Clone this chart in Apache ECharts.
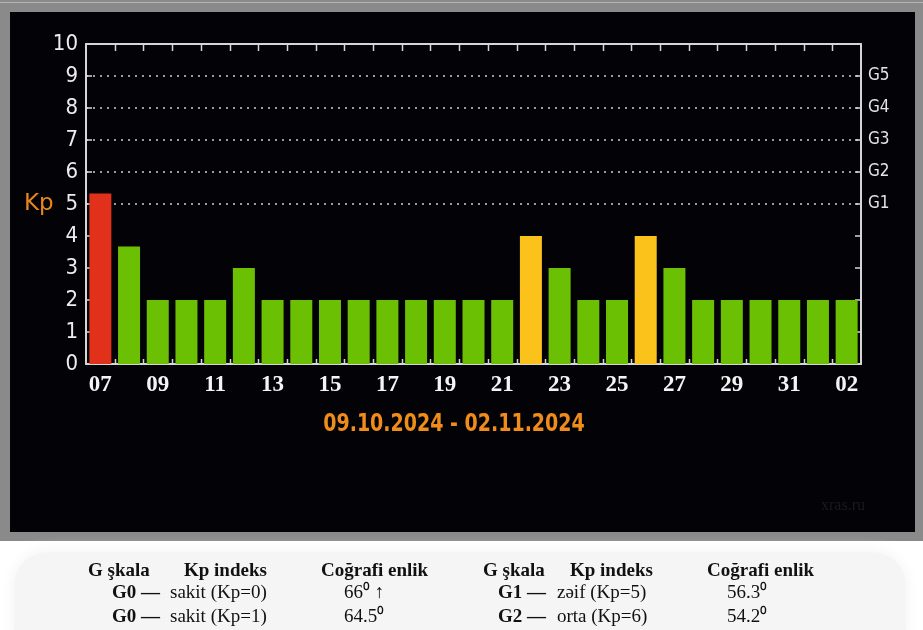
<!DOCTYPE html>
<html>
<head>
<meta charset="utf-8">
<script src="https://cdn.jsdelivr.net/npm/echarts@6/dist/echarts.min.js"></script>
<style>
  html, body { margin: 0; padding: 0; background: #fff; }
  #main { width: 923px; height: 630px; }
</style>
</head>
<body>
<div id="main"></div>
<script>
// days of the period (07.10 .. 02.11) and daily max Kp
var days = ['07','08','09','10','11','12','13','14','15','16','17','18','19','20',
            '21','22','23','24','25','26','27','28','29','30','31','01','02'];
var kpValues = [5.33, 3.67, 2, 2, 2, 3,
                2, 2, 2, 2, 2, 2, 2, 2, 2,
                4, 3, 2, 2, 4, 3,
                2, 2, 2, 2, 2, 2];
var gLabels = {5: 'G1', 6: 'G2', 7: 'G3', 8: 'G4', 9: 'G5'};
var dateRange = '09.10.2024 - 02.11.2024';

var tableHead = ['G şkala', 'Kp indeks', 'Coğrafi enlik'];
var tableLeft = [
  ['G0 —', 'sakit (Kp=0)', '66⁰ ↑'],
  ['G0 —', 'sakit (Kp=1)', '64.5⁰']
];
var tableRight = [
  ['G1 —', 'zəif (Kp=5)', '56.3⁰'],
  ['G2 —', 'orta (Kp=6)', '54.2⁰']
];

var axisColor = '#d6d6d6';
var serif = '"Liberation Serif", "Times New Roman", serif';
var condensed = '"DejaVu Sans Condensed", "DejaVu Sans", sans-serif';

function barColor(v) {
  if (v >= 5) return '#e2311a';
  if (v >= 4) return '#fcc21c';
  return '#6bc004';
}

// dotted grid only at Kp 5..9
var splitColors = [];
for (var i = 0; i <= 10; i++) {
  splitColors.push(i >= 5 && i <= 9 ? '#cfcfcf' : 'rgba(0,0,0,0)');
}

// table text elements
function tableTexts(head, rows, headX, rowX) {
  var out = [];
  head.forEach(function (t, k) {
    out.push({type: 'text', x: headX[k], y: 571,
      style: {text: t, fill: '#111', font: 'bold 19px ' + serif, textVerticalAlign: 'middle'}});
  });
  rows.forEach(function (r, j) {
    var y = 593 + j * 24;
    out.push({type: 'text', x: rowX[0], y: y,
      style: {text: r[0], fill: '#111', font: 'bold 19px ' + serif, textVerticalAlign: 'middle'}});
    out.push({type: 'text', x: rowX[1], y: y,
      style: {text: r[1], fill: '#111', font: '19px ' + serif, textVerticalAlign: 'middle'}});
    out.push({type: 'text', x: rowX[2], y: y,
      style: {text: r[2], fill: '#111', font: '19px ' + serif, textAlign: 'center', textVerticalAlign: 'middle'}});
  });
  return out;
}

var graphics = [
  {type: 'rect', z: -20, shape: {x: 0, y: 0, width: 923, height: 541}, style: {fill: '#8a8a8a'}},
  {type: 'rect', z: -19, shape: {x: 0, y: 2, width: 923, height: 1}, style: {fill: '#b4b4b4'}},
  {type: 'rect', z: -18, shape: {x: 10, y: 12, width: 905, height: 520}, style: {fill: '#030307'}},
  {type: 'rect', z: -18, shape: {x: 14, y: 552, width: 892, height: 110, r: 34},
    style: {fill: '#f5f5f5', shadowBlur: 16, shadowColor: '#f2f2f2'}},
  {type: 'text', x: 24, y: 204,
    style: {text: 'Kp', fill: '#e8861c', font: '23px "DejaVu Sans", sans-serif', textVerticalAlign: 'middle'}},
  {type: 'text', x: 454, y: 425, scaleX: 0.88,
    style: {text: dateRange, fill: '#f08c1a', font: 'bold 24px ' + condensed,
      textAlign: 'center', textVerticalAlign: 'middle'}},
  {type: 'text', x: 843, y: 506,
    style: {text: 'xras.ru', fill: '#1b1b1f', font: '16px ' + serif, textAlign: 'center', textVerticalAlign: 'middle'}}
].concat(
  tableTexts(tableHead, tableLeft, [88, 184, 321], [112, 170, 364]),
  tableTexts(tableHead, tableRight, [483, 570, 707], [498, 557, 747])
);

var chart = echarts.init(document.getElementById('main'));
var option = {
  animation: false,
  backgroundColor: '#fff',
  grid: {left: 86, right: 62, top: 44, bottom: 266},
  graphic: graphics,
  xAxis: [{
    type: 'category',
    data: days,
    position: 'bottom',
    boundaryGap: true,
    axisLine: {show: true, onZero: false, lineStyle: {color: axisColor, width: 2}},
    axisTick: {show: false},
    axisLabel: {interval: 1, margin: 10, color: '#f4f4f4', fontFamily: serif, fontWeight: 'bold', fontSize: 23}
  }, {
    type: 'category',
    data: days,
    position: 'top',
    boundaryGap: true,
    axisLine: {show: true, onZero: false, lineStyle: {color: axisColor, width: 2}},
    axisTick: {show: false},
    axisLabel: {show: false}
  }],
  yAxis: [{
    type: 'value',
    min: 0, max: 10, interval: 1,
    position: 'left',
    axisLine: {show: true, onZero: false, lineStyle: {color: axisColor, width: 2}},
    axisTick: {show: true, inside: true, length: 6, lineStyle: {color: axisColor, width: 1.5}},
    axisLabel: {margin: 8, color: '#ececec', fontSize: 22, fontFamily: condensed},
    splitLine: {show: true, lineStyle: {color: splitColors, width: 1.5, type: [2, 5]}}
  }, {
    type: 'value',
    min: 0, max: 10, interval: 1,
    position: 'right',
    axisLine: {show: true, onZero: false, lineStyle: {color: axisColor, width: 2}},
    axisTick: {show: true, inside: true, length: 6, lineStyle: {color: axisColor, width: 1.5}},
    axisLabel: {margin: 7, color: '#e4e4e4', fontSize: 17, fontFamily: condensed,
      formatter: function (v) { return gLabels[v] || ''; }},
    splitLine: {show: false}
  }],
  series: [{
    type: 'bar',
    data: kpValues,
    barWidth: 22,
    z: 1,
    itemStyle: {color: function (p) { return barColor(p.value); }}
  }]
};
chart.setOption(option);

// day-boundary ticks on top and bottom axes, placed with the axis scale
var c0 = chart.convertToPixel({xAxisIndex: 0}, 0);
var c1 = chart.convertToPixel({xAxisIndex: 0}, 1);
var band = c1 - c0;
var yTop = chart.convertToPixel({yAxisIndex: 0}, 10);
var yBot = chart.convertToPixel({yAxisIndex: 0}, 0);
var tickMarks = [];
for (var k = 1; k < days.length; k++) {
  var tx = Math.round(c0 - band / 2 + k * band) + 0.5;
  tickMarks.push({type: 'line', z: 5, shape: {x1: tx, y1: yTop, x2: tx, y2: yTop + 7},
    style: {stroke: axisColor, lineWidth: 1.5}});
  tickMarks.push({type: 'line', z: 5, shape: {x1: tx, y1: yBot, x2: tx, y2: yBot - 5},
    style: {stroke: axisColor, lineWidth: 1.5}});
}
chart.setOption({graphic: {elements: graphics.concat(tickMarks)}});
</script>
</body>
</html>
